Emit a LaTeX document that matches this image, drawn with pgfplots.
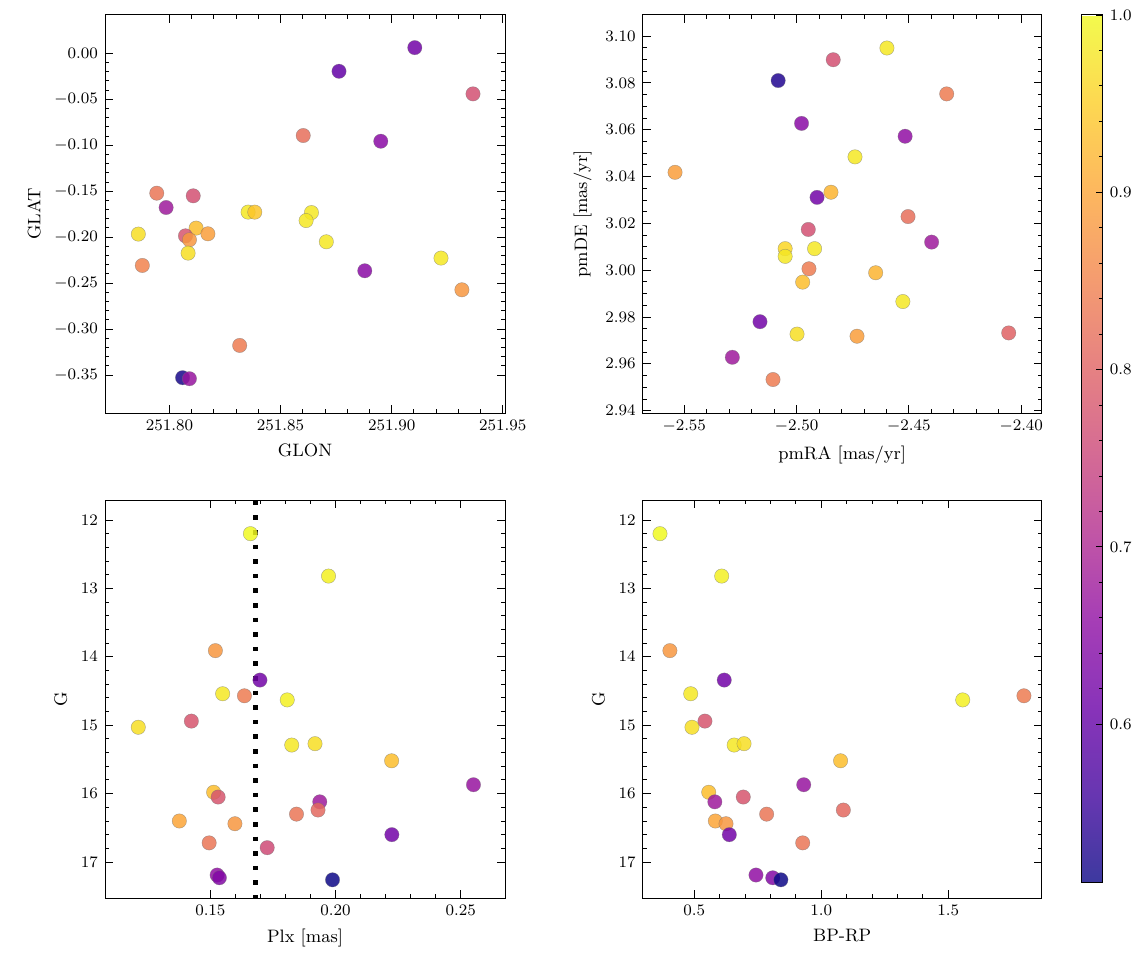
\documentclass[border=0pt]{standalone}
\usepackage{pgfplots}
\pgfplotsset{compat=1.18}
\pgfplotsset{
  colormap={plasma}{rgb255=(13,8,135) rgb255=(65,4,157) rgb255=(106,0,168) rgb255=(143,13,164) rgb255=(177,42,144) rgb255=(204,71,120) rgb255=(225,100,98) rgb255=(242,132,75) rgb255=(252,166,54) rgb255=(252,206,37) rgb255=(240,249,33)},
  colormap={plasmablend}{rgb255=(61,57,159) rgb255=(103,54,177) rgb255=(136,51,185) rgb255=(165,61,182) rgb255=(193,85,166) rgb255=(214,108,147) rgb255=(231,131,129) rgb255=(245,157,111) rgb255=(253,184,94) rgb255=(253,216,81) rgb255=(243,250,77)},
  myax/.style={
    scale only axis, width=200pt, height=199pt,
    colormap name=plasma,
    point meta min=0.511, point meta max=1.0,
    tick align=inside, xtick pos=both, ytick pos=both,
    major tick length=4pt, minor tick length=2pt,
    every tick/.style={black, line width=0.45pt},
    axis line style={line width=0.5pt},
    tick label style={font=\fontsize{8.3}{10}\selectfont},
    label style={font=\fontsize{9}{11}\selectfont},
    scaled ticks=false,
  },
  sc/.style={scatter, only marks, mark=*, mark size=3.6pt, point meta=explicit,
    scatter/use mapped color={draw=black!55, fill=mapped color},
    every mark/.append style={line width=0.2pt, fill opacity=0.85, draw opacity=0.6}},
  f2/.style={/pgf/number format/.cd, fixed, fixed zerofill, precision=2},
}
\begin{document}
\begin{tikzpicture}
\useasboundingbox (0,0) rectangle (566.5pt,482.5pt);
% Top-left
\begin{axis}[myax, at={(52.5pt,276pt)}, anchor=south west,
  xmin=251.771, xmax=251.951, ymin=-0.3913, ymax=0.0416,
  xtick={251.80,251.85,251.90,251.95}, ytick={-0.35,-0.30,-0.25,-0.20,-0.15,-0.10,-0.05,0.00},
  minor x tick num=4, minor y tick num=4,
  xticklabel style={f2}, yticklabel style={f2},
  xlabel={GLON}, ylabel={GLAT}]
\addplot[sc] table[x=x,y=y,meta=c]{
x y c
251.9104 0.0061 0.62
251.8763 -0.0196 0.60
251.9366 -0.0442 0.77
251.8602 -0.0895 0.82
251.8951 -0.0957 0.65
251.7943 -0.1522 0.83
251.8107 -0.1551 0.77
251.7985 -0.1678 0.68
251.8354 -0.1728 0.98
251.8384 -0.1728 0.94
251.8639 -0.1733 0.98
251.8615 -0.1820 0.98
251.8120 -0.1902 0.93
251.7860 -0.1967 0.97
251.8173 -0.1964 0.89
251.8072 -0.1986 0.78
251.8090 -0.2029 0.88
251.8706 -0.2051 0.98
251.8084 -0.2174 0.97
251.7878 -0.2308 0.85
251.8879 -0.2366 0.65
251.9222 -0.2228 0.98
251.9316 -0.2573 0.88
251.8316 -0.3178 0.84
251.8059 -0.3529 0.52
251.8090 -0.3540 0.67
};
\end{axis}
% Top-right
\begin{axis}[myax, at={(321.35pt,276pt)}, anchor=south west, width=199.5pt,
  xmin=-2.5685, xmax=-2.3909, ymin=2.939, ymax=3.109,
  xtick={-2.55,-2.50,-2.45,-2.40}, ytick={2.94,2.96,2.98,3.00,3.02,3.04,3.06,3.08,3.10},
  minor x tick num=4, minor y tick num=3,
  xticklabel style={f2}, yticklabel style={f2},
  xlabel={pmRA [mas/yr]}, ylabel={pmDE [mas/yr]}]
\addplot[sc] table[x=x,y=y,meta=c]{
x y c
-2.4598 3.0949 0.98
-2.4837 3.0899 0.77
-2.5082 3.0810 0.53
-2.4332 3.0753 0.84
-2.4978 3.0627 0.65
-2.4517 3.0572 0.66
-2.4740 3.0484 0.98
-2.5541 3.0418 0.89
-2.4847 3.0333 0.92
-2.4909 3.0311 0.62
-2.4504 3.0229 0.82
-2.4948 3.0174 0.77
-2.4399 3.0120 0.68
-2.5051 3.0092 0.96
-2.4920 3.0092 0.98
-2.5051 3.0059 0.98
-2.4945 3.0006 0.84
-2.4648 2.9989 0.92
-2.4973 2.9949 0.93
-2.4527 2.9866 0.98
-2.5163 2.9780 0.62
-2.4998 2.9727 0.97
-2.4731 2.9718 0.89
-2.4056 2.9732 0.80
-2.5286 2.9628 0.68
-2.5105 2.9533 0.84
};
\end{axis}
% Colorbar holder
\begin{axis}[scale only axis, width=1pt, height=1pt, hide axis,
  at={(532.15pt,475pt)}, anchor=north east,
  xmin=0, xmax=1, ymin=0, ymax=1,
  colormap name=plasmablend,
  point meta min=0.511, point meta max=1.0,
  colorbar,
  colorbar style={at={(parent axis.north east)}, anchor=north west, xshift=0pt,
    scale only axis, width=10.7pt, height=433.5pt,
    ytick={0.6,0.7,0.8,0.9,1.0}, minor y tick num=4,
    tick align=inside, ytick pos=right, yticklabel pos=right,
    major tick length=3.5pt, minor tick length=2pt,
    every tick/.style={black, line width=0.45pt},
    yticklabel style={/pgf/number format/.cd, fixed, fixed zerofill, precision=1},
    tick label style={font=\fontsize{8.3}{10}\selectfont},
    axis line style={line width=0.5pt}}]
\end{axis}
% Bottom-left
\begin{axis}[myax, at={(52.5pt,33.5pt)}, anchor=south west,
  xmin=0.1079, xmax=0.2677, ymin=11.708, ymax=17.526, y dir=reverse,
  xtick={0.15,0.20,0.25}, ytick={12,13,14,15,16,17},
  minor x tick num=4, minor y tick num=4,
  xticklabel style={f2},
  xlabel={Plx [mas]}, ylabel={G}]
\addplot[black, line width=2.2pt, line cap=butt, dash pattern=on 2.3pt off 5pt, forget plot] coordinates {(0.168,11.72) (0.168,17.526)};
\addplot[sc] table[x=x,y=y,meta=c]{
x y c
0.1660 12.20 1.00
0.1972 12.82 0.99
0.1520 13.91 0.88
0.1698 14.34 0.62
0.1549 14.54 0.98
0.1636 14.57 0.84
0.1807 14.63 0.99
0.1424 14.94 0.78
0.1212 15.03 0.97
0.1825 15.29 0.98
0.1918 15.27 0.97
0.2224 15.52 0.93
0.2551 15.87 0.67
0.1513 15.98 0.93
0.1531 16.05 0.78
0.1937 16.12 0.68
0.1930 16.24 0.81
0.1844 16.30 0.83
0.1376 16.40 0.90
0.1598 16.44 0.88
0.2225 16.60 0.62
0.1495 16.72 0.83
0.1727 16.79 0.76
0.1527 17.19 0.66
0.1536 17.23 0.64
0.1988 17.26 0.51
};
\end{axis}
% Bottom-right
\begin{axis}[myax, at={(321.35pt,33.5pt)}, anchor=south west, width=199.5pt,
  xmin=0.297, xmax=1.868, ymin=11.708, ymax=17.526, y dir=reverse,
  xtick={0.5,1.0,1.5}, ytick={12,13,14,15,16,17},
  minor x tick num=4, minor y tick num=4,
  xticklabel style={/pgf/number format/.cd, fixed, fixed zerofill, precision=1},
  xlabel={BP-RP}, ylabel={G}]
\addplot[sc] table[x=x,y=y,meta=c]{
x y c
0.365 12.20 1.00
0.608 12.82 0.99
0.404 13.91 0.88
0.618 14.34 0.62
0.486 14.54 0.98
1.798 14.57 0.84
1.557 14.63 0.99
0.542 14.94 0.78
0.491 15.03 0.97
0.657 15.29 0.98
0.696 15.27 0.97
1.076 15.52 0.93
0.931 15.87 0.67
0.557 15.98 0.93
0.693 16.05 0.78
0.581 16.12 0.68
1.087 16.24 0.81
0.785 16.30 0.83
0.583 16.40 0.90
0.625 16.44 0.88
0.638 16.60 0.62
0.927 16.72 0.83
0.743 17.19 0.66
0.809 17.23 0.64
0.841 17.26 0.51
};
\end{axis}
\end{tikzpicture}
\end{document}
